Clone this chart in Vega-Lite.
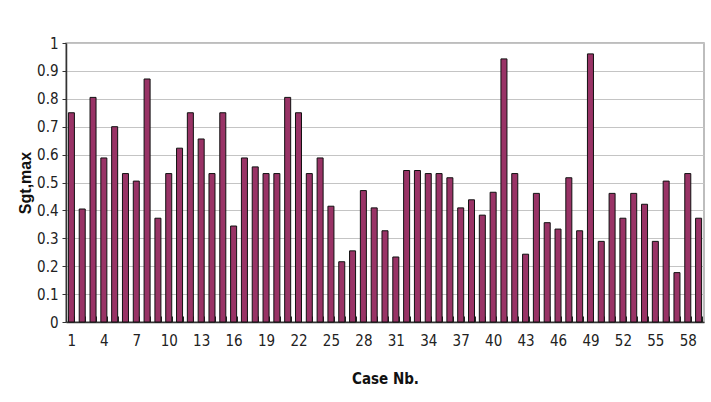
{
  "$schema": "https://vega.github.io/schema/vega-lite/v6.json",
  "autosize": {"type": "none"},
  "padding": {"left": 66, "top": 43, "right": 7, "bottom": 80},
  "width": 638,
  "height": 279,
  "background": "white",
  "config": {
    "view": {"stroke": "#a8a8a8", "strokeWidth": 1.5},
    "font": "Liberation Sans Narrow, DejaVu Sans Condensed, Liberation Sans, sans-serif"
  },
  "data": {
    "values": [
      {"case": 1, "sgt": 0.75}, {"case": 2, "sgt": 0.405}, {"case": 3, "sgt": 0.805},
      {"case": 4, "sgt": 0.588}, {"case": 5, "sgt": 0.70}, {"case": 6, "sgt": 0.532},
      {"case": 7, "sgt": 0.505}, {"case": 8, "sgt": 0.871}, {"case": 9, "sgt": 0.372},
      {"case": 10, "sgt": 0.532}, {"case": 11, "sgt": 0.623}, {"case": 12, "sgt": 0.75},
      {"case": 13, "sgt": 0.656}, {"case": 14, "sgt": 0.532}, {"case": 15, "sgt": 0.75},
      {"case": 16, "sgt": 0.344}, {"case": 17, "sgt": 0.588}, {"case": 18, "sgt": 0.556},
      {"case": 19, "sgt": 0.532}, {"case": 20, "sgt": 0.532}, {"case": 21, "sgt": 0.805},
      {"case": 22, "sgt": 0.75}, {"case": 23, "sgt": 0.532}, {"case": 24, "sgt": 0.588},
      {"case": 25, "sgt": 0.415}, {"case": 26, "sgt": 0.216}, {"case": 27, "sgt": 0.255},
      {"case": 28, "sgt": 0.471}, {"case": 29, "sgt": 0.409}, {"case": 30, "sgt": 0.327},
      {"case": 31, "sgt": 0.233}, {"case": 32, "sgt": 0.543}, {"case": 33, "sgt": 0.543},
      {"case": 34, "sgt": 0.532}, {"case": 35, "sgt": 0.532}, {"case": 36, "sgt": 0.517},
      {"case": 37, "sgt": 0.409}, {"case": 38, "sgt": 0.438}, {"case": 39, "sgt": 0.383},
      {"case": 40, "sgt": 0.465}, {"case": 41, "sgt": 0.943}, {"case": 42, "sgt": 0.532},
      {"case": 43, "sgt": 0.243}, {"case": 44, "sgt": 0.461}, {"case": 45, "sgt": 0.356},
      {"case": 46, "sgt": 0.333}, {"case": 47, "sgt": 0.517}, {"case": 48, "sgt": 0.327},
      {"case": 49, "sgt": 0.961}, {"case": 50, "sgt": 0.289}, {"case": 51, "sgt": 0.461},
      {"case": 52, "sgt": 0.372}, {"case": 53, "sgt": 0.461}, {"case": 54, "sgt": 0.422},
      {"case": 55, "sgt": 0.289}, {"case": 56, "sgt": 0.505}, {"case": 57, "sgt": 0.177},
      {"case": 58, "sgt": 0.532}, {"case": 59, "sgt": 0.372}
    ]
  },
  "mark": {"type": "bar", "color": "#993366", "stroke": "#111111", "strokeWidth": 1},
  "encoding": {
    "x": {
      "field": "case",
      "type": "ordinal",
      "sort": "ascending",
      "scale": {"paddingInner": 0.444, "paddingOuter": 0.222},
      "axis": {
        "title": "Case Nb.",
        "titleFont": "Liberation Sans Narrow, DejaVu Sans Condensed, Liberation Sans, sans-serif",
        "titleFontSize": 15,
        "titleFontWeight": "bold",
        "titleColor": "#111111",
        "titleBaseline": "middle",
        "titleY": 56,
        "labelAngle": 0,
        "labelFont": "Liberation Sans Narrow, DejaVu Sans Condensed, Liberation Sans, sans-serif",
        "labelFontSize": 15,
        "labelColor": "#222222",
        "labelOverlap": false,
        "labelExpr": "(datum.value - 1) % 3 == 0 ? datum.label : ''",
        "labelPadding": 17,
        "tickBand": "extent",
        "tickSize": -6,
        "tickColor": "#222222",
        "domainColor": "#333333",
        "domainWidth": 1.5,
        "grid": false
      }
    },
    "y": {
      "field": "sgt",
      "type": "quantitative",
      "scale": {"domain": [0, 1], "nice": false},
      "axis": {
        "title": "Sgt,max",
        "titleFont": "Liberation Sans, sans-serif",
        "titleFontSize": 16,
        "titleFontWeight": "bold",
        "titleColor": "#111111",
        "titleBaseline": "middle",
        "titleX": -41,
        "values": [0, 0.1, 0.2, 0.3, 0.4, 0.5, 0.6, 0.7, 0.8, 0.9, 1],
        "format": ".1~f",
        "labelFont": "Liberation Sans Narrow, DejaVu Sans Condensed, Liberation Sans, sans-serif",
        "labelFontSize": 15,
        "labelColor": "#222222",
        "labelPadding": 4,
        "tickSize": 4,
        "tickColor": "#333333",
        "domainColor": "#333333",
        "domainWidth": 1.5,
        "grid": true,
        "gridColor": "#c4c4c4"
      }
    }
  }
}
